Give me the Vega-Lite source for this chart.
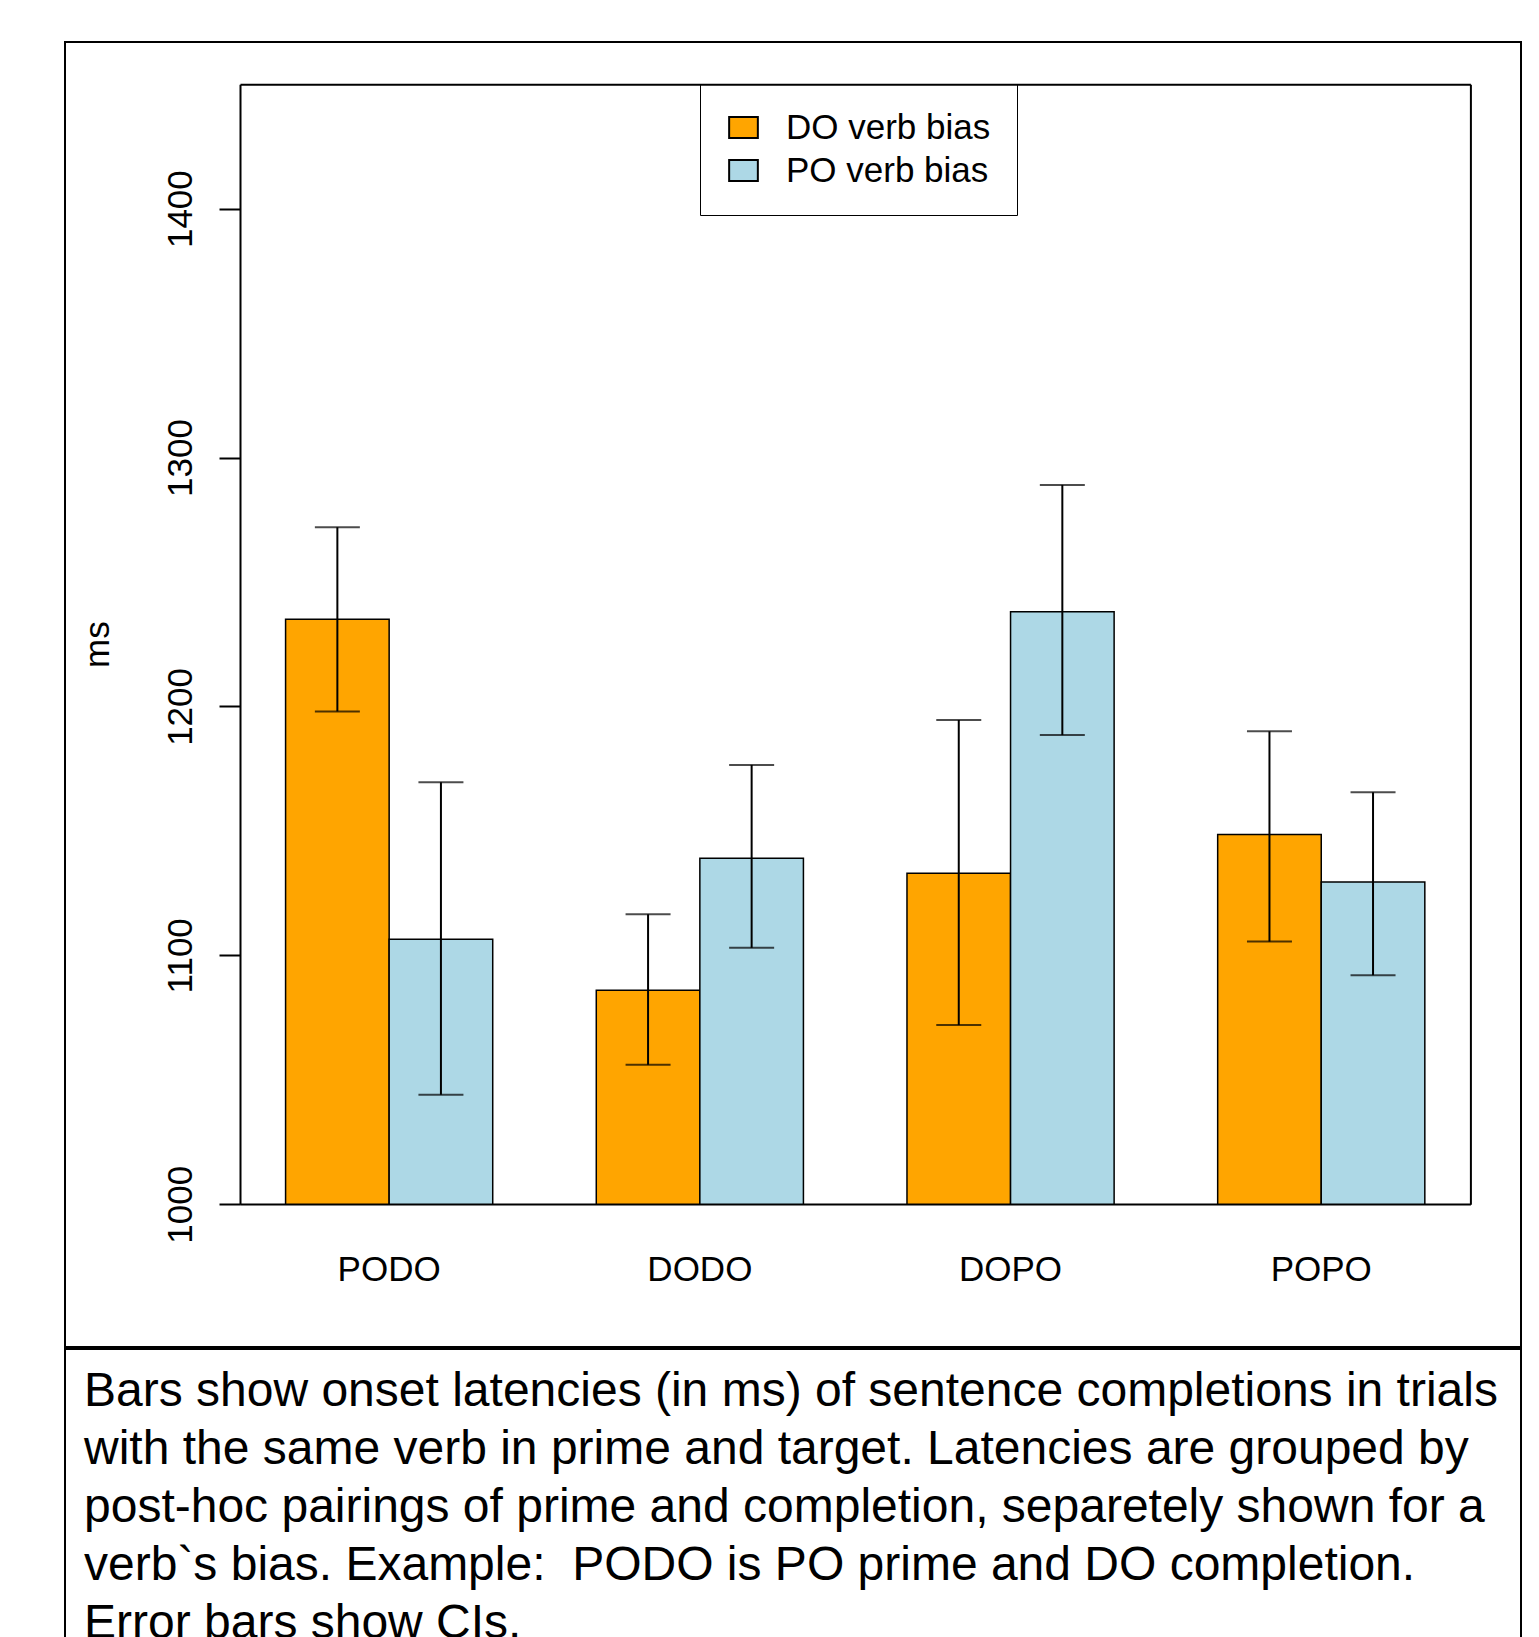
{
  "$schema": "https://vega.github.io/schema/vega-lite/v6.json",
  "padding": {"left": 64, "top": 41, "right": 0, "bottom": 0},
  "background": "white",
  "spacing": 0,
  "config": {
    "view": {"stroke": "black", "strokeWidth": 2},
    "font": "Liberation Sans",
    "axis": {
      "labelFont": "Liberation Sans",
      "labelFontSize": 35,
      "labelColor": "black",
      "domainColor": "black",
      "domainWidth": 2,
      "tickColor": "black",
      "tickWidth": 2,
      "grid": false,
      "titleFont": "Liberation Sans",
      "titleFontSize": 35,
      "titleFontWeight": "normal",
      "titleColor": "black"
    }
  },
  "datasets": {
    "bars": [
      {"group": "PODO", "bias": "DO verb bias", "mean": 1235, "lo": 1198, "hi": 1272},
      {"group": "PODO", "bias": "PO verb bias", "mean": 1106.5, "lo": 1044, "hi": 1169.5},
      {"group": "DODO", "bias": "DO verb bias", "mean": 1086, "lo": 1056, "hi": 1116.5},
      {"group": "DODO", "bias": "PO verb bias", "mean": 1139, "lo": 1103, "hi": 1176.5},
      {"group": "DOPO", "bias": "DO verb bias", "mean": 1133, "lo": 1072, "hi": 1194.5},
      {"group": "DOPO", "bias": "PO verb bias", "mean": 1238, "lo": 1188.5, "hi": 1289},
      {"group": "POPO", "bias": "DO verb bias", "mean": 1148.5, "lo": 1105.5, "hi": 1190},
      {"group": "POPO", "bias": "PO verb bias", "mean": 1129.5, "lo": 1092, "hi": 1165.5}
    ],
    "caption": [
      {"line": 1, "text": "Bars show onset latencies (in ms) of sentence completions in trials"},
      {"line": 2, "text": "with the same verb in prime and target. Latencies are grouped by"},
      {"line": 3, "text": "post-hoc pairings of prime and completion, separetely shown for a"},
      {"line": 4, "text": "verb`s bias. Example:\u00a0 PODO is PO prime and DO completion."},
      {"line": 5, "text": "Error bars show CIs."}
    ]
  },
  "vconcat": [
    {
      "width": 1456,
      "height": 1305,
      "data": {"name": "bars"},
      "resolve": {"axis": {"x": "independent", "y": "independent"}},
      "layer": [
        {
          "mark": {"type": "bar", "stroke": "black", "strokeWidth": 1.5},
          "encoding": {
            "x": {
              "field": "group", "type": "nominal",
              "sort": ["PODO", "DODO", "DOPO", "POPO"],
              "scale": {"range": [175, 1405.4], "paddingInner": 0.3333, "paddingOuter": 0.1467},
              "axis": {"orient": "bottom", "offset": -143, "title": null, "ticks": false, "tickSize": 0, "labelAngle": 0, "labelPadding": 48, "domain": true}
            },
            "xOffset": {"field": "bias", "type": "nominal", "scale": {"paddingInner": 0, "paddingOuter": 0}},
            "y": {
              "field": "mean", "type": "quantitative",
              "scale": {"domain": [1000, 1450], "range": [1162.2, 42.2], "zero": false, "nice": false},
              "axis": {"orient": "left", "offset": -175, "values": [1000, 1100, 1200, 1300, 1400], "format": "d", "tickSize": 21, "labelPadding": 21, "labelAngle": -90, "title": "ms", "titlePadding": 48}
            },
            "y2": {"datum": 1000},
            "color": {
              "field": "bias", "type": "nominal",
              "scale": {"domain": ["DO verb bias", "PO verb bias"], "range": ["#FFA500", "#ADD8E6"]},
              "legend": {
                "orient": "none", "legendX": 635, "legendY": 42, "title": null,
                "strokeColor": "black", "padding": 26,
                "labelFont": "Liberation Sans", "labelFontSize": 35, "labelColor": "black", "labelLimit": 500,
                "symbolType": "M-1,-0.73L1,-0.73L1,0.73L-1,0.73Z", "symbolSize": 824,
                "symbolStrokeColor": "black", "symbolStrokeWidth": 2, "symbolOpacity": 1,
                "labelOffset": 25, "rowPadding": 7
              }
            }
          }
        },
        {
          "mark": {"type": "rule", "color": "black", "strokeWidth": 2},
          "encoding": {
            "x": {
              "field": "group", "type": "nominal",
              "sort": ["PODO", "DODO", "DOPO", "POPO"],
              "scale": {"range": [175, 1405.4], "paddingInner": 0.3333, "paddingOuter": 0.1467},
              "axis": {"orient": "top", "offset": -42.2, "title": null, "ticks": false, "labels": false, "domain": true}
            },
            "xOffset": {"field": "bias", "type": "nominal", "scale": {"paddingInner": 0, "paddingOuter": 0}},
            "y": {
              "field": "lo", "type": "quantitative",
              "scale": {"domain": [1000, 1450], "range": [1162.2, 42.2], "zero": false, "nice": false},
              "axis": {"orient": "right", "offset": -50.6, "title": null, "ticks": false, "labels": false, "domain": true}
            },
            "y2": {"field": "hi"}
          }
        },
        {
          "mark": {"type": "tick", "color": "black", "thickness": 2, "size": 45},
          "encoding": {
            "x": {"field": "group", "type": "nominal", "sort": ["PODO", "DODO", "DOPO", "POPO"], "axis": null},
            "xOffset": {"field": "bias", "type": "nominal"},
            "y": {"field": "lo", "type": "quantitative", "axis": null}
          }
        },
        {
          "mark": {"type": "tick", "color": "black", "thickness": 2, "size": 45},
          "encoding": {
            "x": {"field": "group", "type": "nominal", "sort": ["PODO", "DODO", "DOPO", "POPO"], "axis": null},
            "xOffset": {"field": "bias", "type": "nominal"},
            "y": {"field": "hi", "type": "quantitative", "axis": null}
          }
        }
      ]
    },
    {
      "width": 1456,
      "height": 346,
      "data": {"name": "caption"},
      "mark": {"type": "text", "align": "left", "baseline": "alphabetic", "fontSize": 48, "font": "Liberation Sans", "color": "black", "dx": 19},
      "encoding": {
        "text": {"field": "text", "type": "nominal"},
        "y": {"field": "line", "type": "ordinal", "scale": {"type": "point", "padding": 0.983}, "axis": null},
        "x": {"datum": 0, "type": "quantitative", "scale": {"domain": [0, 1]}, "axis": null}
      }
    }
  ]
}
